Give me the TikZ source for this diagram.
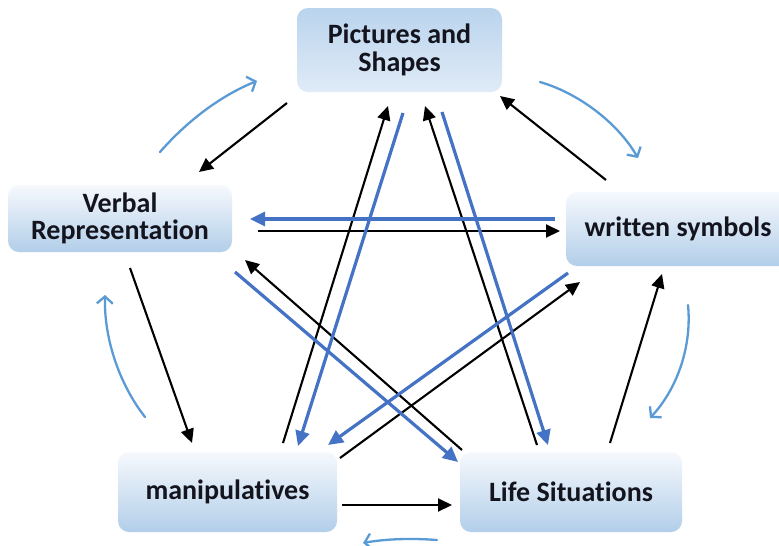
\documentclass[tikz,border=0pt]{standalone}
\usepackage{fontspec}
\setmainfont{Carlito}[Ligatures=NoCommon]
\usetikzlibrary{arrows.meta}
\definecolor{dblue}{RGB}{68,114,196}
\definecolor{lblue}{RGB}{91,155,213}
\definecolor{boxtop}{RGB}{246,249,253}
\definecolor{boxbot}{RGB}{178,206,233}
\definecolor{pictop}{RGB}{186,212,237}
\definecolor{picbot}{RGB}{224,235,247}
\definecolor{txt}{RGB}{20,20,30}
\tikzset{
 box/.style={rounded corners=11pt, top color=boxtop, bottom color=boxbot, draw=none, inner sep=0pt, align=center, font=\bfseries\fontsize{28}{27.5}\selectfont, text=txt},
 blk/.style={draw=black, line width=2.1pt, -{Triangle[length=14pt,width=13pt]}},
 blu/.style={draw=dblue, line width=3.2pt, -{Triangle[length=15pt,width=14pt]}},
 cyc/.style={draw=lblue, line width=2.3pt, line cap=round, -{Straight Barb[length=7pt,width=16pt]}},
}
\begin{document}
\begin{tikzpicture}[x=1pt,y=-1pt]
\useasboundingbox (0,0) rectangle (779,546);
\clip (0,0) rectangle (779,546);
\fill[white] (0,0) rectangle (779,546);
% boxes
\node[box, top color=pictop, bottom color=picbot, minimum width=205pt, minimum height=84pt] (pic) at (399.5,50) {Pictures and\\Shapes};
\node[box, minimum width=224pt, minimum height=67pt] (verb) at (120,218.5) {Verbal\\Representation};
\node[box, minimum width=224pt, minimum height=74pt] (writ) at (678,229) {written symbols};
\node[box, minimum width=219pt, minimum height=80pt] (manip) at (227.5,492) {manipulatives};
\node[box, minimum width=222pt, minimum height=80pt] (life) at (571,492) {Life Situations};
% endpoints
\coordinate (b1s) at (287,103); \coordinate (b1e) at (199,172);
\coordinate (b2s) at (606,180); \coordinate (b2e) at (500,96);
\coordinate (b3s) at (258,231); \coordinate (b3e) at (560,231);
\coordinate (b5s) at (130,268); \coordinate (b5e) at (192,443);
\coordinate (b6s) at (342,505); \coordinate (b6e) at (452,505);
\coordinate (b7s) at (610,443); \coordinate (b7e) at (662,274);
\coordinate (b8s) at (283,443); \coordinate (b8e) at (388,106);
\coordinate (b9s) at (537,445); \coordinate (b9e) at (425,106);
\coordinate (b10s) at (462,450); \coordinate (b10e) at (245,260);
\coordinate (b11s) at (340,458); \coordinate (b11e) at (580,282);
\coordinate (u1s) at (555,219); \coordinate (u1e) at (250,219);
\coordinate (u2s) at (403,113); \coordinate (u2e) at (298,446);
\coordinate (u3s) at (442,112); \coordinate (u3e) at (548,445);
\coordinate (u4s) at (235,272); \coordinate (u4e) at (458,462);
\coordinate (u5s) at (568,273); \coordinate (u5e) at (328,445);
\coordinate (c1s) at (160,152); \coordinate (c1e) at (257,81);
\coordinate (c2s) at (540,82); \coordinate (c2e) at (638,158);
\coordinate (c3s) at (688,305); \coordinate (c3e) at (650,418);
\coordinate (c4s) at (437,540); \coordinate (c4e) at (363,543);
\coordinate (c5s) at (145,417); \coordinate (c5e) at (105,295);
% black arrows
\draw[blk] (b1s) -- (b1e);
\draw[blk] (b2s) -- (b2e);
\draw[blk] (b3s) -- (b3e);
\draw[blk] (b5s) -- (b5e);
\draw[blk] (b6s) -- (b6e);
\draw[blk] (b7s) -- (b7e);
\draw[blk] (b8s) -- (b8e);
\draw[blk] (b9s) -- (b9e);
\draw[blk] (b10s) -- (b10e);
\draw[blk] (b11s) -- (b11e);
% blue arrows
\draw[blu] (u1s) -- (u1e);
\draw[blu] (u2s) -- (u2e);
\draw[blu] (u3s) -- (u3e);
\draw[blu] (u4s) -- (u4e);
\draw[blu] (u5s) -- (u5e);
% cycle arrows
\draw[cyc] (c1s) .. controls (188,120) and (222,95) .. (c1e);
\draw[cyc] (c2s) .. controls (578,93) and (617,122) .. (c2e);
\draw[cyc] (c3s) .. controls (692,345) and (678,388) .. (c3e);
\draw[cyc] (c4s) .. controls (410,538) and (385,539) .. (c4e);
\draw[cyc] (c5s) .. controls (120,385) and (104,340) .. (c5e);
\end{tikzpicture}
\end{document}
